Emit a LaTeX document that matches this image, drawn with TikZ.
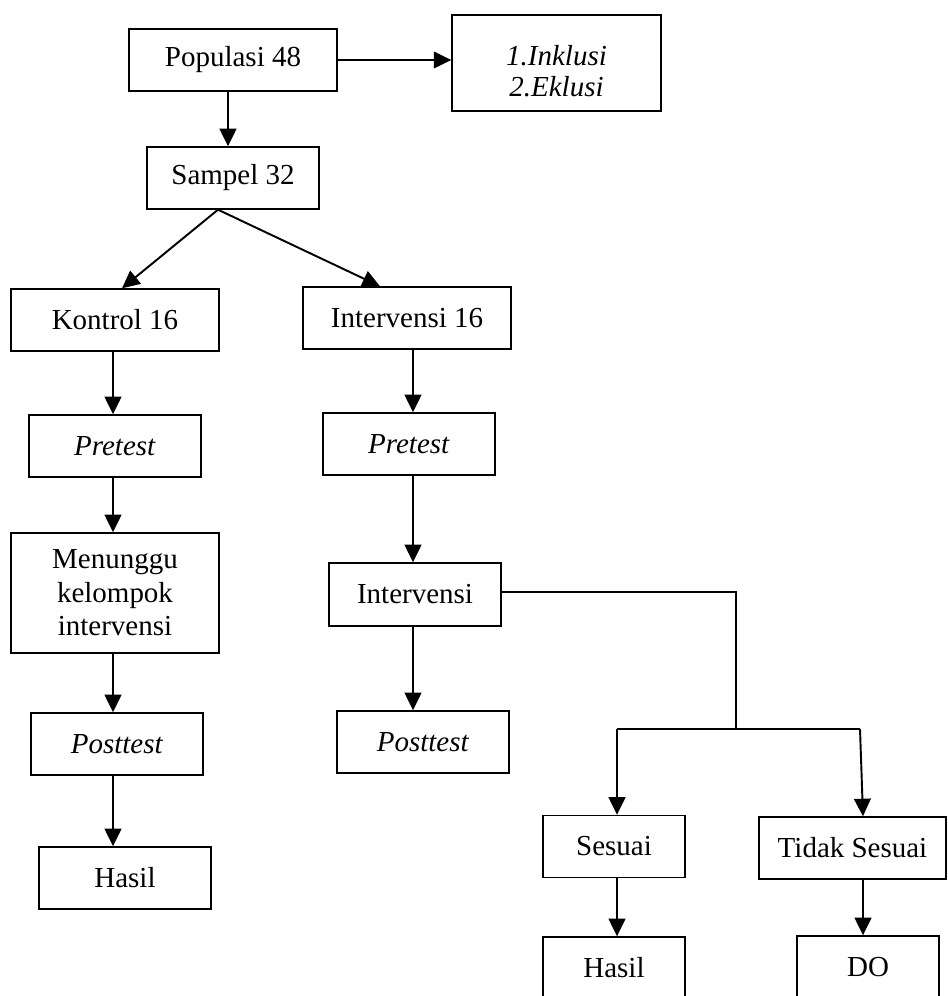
\documentclass[tikz,border=0pt]{standalone}
\usepackage{fontspec}
\setmainfont{Liberation Serif}
\usetikzlibrary{arrows.meta,calc}
\tikzset{>={Triangle[length=10pt,width=9.5pt]}}
\tikzset{
  kotak/.style={draw, line width=0.8pt, align=center, inner sep=0pt,
    minimum height=1.24cm, font=\fontsize{16.5}{19}\selectfont},
  panah/.style={->, line width=1.1pt}
}

\begin{document}
\begin{tikzpicture}[x=0.02cm, y=-0.02cm]
  \useasboundingbox (0,0) rectangle (947,996);
  % baris atas
  \node[kotak, minimum width=4.18cm, minimum height=1.92cm,
    label={[align=center, yshift=-4.5pt, font=\fontsize{16.5}{17.5}\selectfont\itshape]center:1.Inklusi\\2.Eklusi}]
    (kriteria) at (556.5,63) {};
  \node[kotak, minimum width=4.16cm] (populasi) at (233,60) {Populasi 48};
  \node[kotak, minimum width=3.44cm] (sampel) at (233,178) {Sampel 32};
  % kelompok kontrol
  \node[kotak, minimum width=4.16cm] (kontrol) at (115,320) {Kontrol 16};
  \node[kotak, minimum width=3.44cm] (pretestK) at (115,446) {\textit{Pretest}};
  \node[kotak, minimum width=4.16cm, minimum height=2.4cm] (menunggu) at (115,593) {Menunggu\\kelompok\\intervensi};
  \node[kotak, minimum width=3.44cm] (posttestK) at (117,744) {\textit{Posttest}};
  \node[kotak, minimum width=3.44cm] (hasilK) at (125,878) {Hasil};
  % kelompok intervensi
  \node[kotak, minimum width=4.16cm] (intv16) at (407,318) {Intervensi 16};
  \node[kotak, minimum width=3.44cm] (pretestI) at (409,444) {\textit{Pretest}};
  \node[kotak, minimum width=3.44cm, minimum height=1.26cm] (intv) at (415,594.5) {Intervensi};
  \node[kotak, minimum width=3.44cm] (posttestI) at (423,742) {\textit{Posttest}};
  \node[kotak, minimum width=2.84cm] (sesuai) at (614,846.5) {Sesuai};
  \node[kotak, minimum width=3.74cm] (tidak) at (852.5,848) {Tidak Sesuai};
  \node[kotak, minimum width=2.84cm] (hasilI) at (614,968) {Hasil};
  \node[kotak, minimum width=2.84cm] (do) at (868,967) {DO};

  \coordinate (pecah) at ($(sampel.south)+(-15,0)$);
  \coordinate (siku) at (736,729);
  \coordinate (kiri) at (617,729);
  \coordinate (kanan) at (860,729);

  \draw[panah] (populasi.east) -- (kriteria.west |- populasi.east);
  \draw[panah] ($(populasi.south)+(-5,0)$) -- ($(sampel.north)+(-5,0)$);
  \draw[panah] (pecah) -- ($(kontrol.north)+(7,0)$);
  \draw[panah] (pecah) -- ($(intv16.north)+(-27,0)$);
  \foreach \a/\b in {kontrol/pretestK, pretestK/menunggu, menunggu/posttestK, posttestK/hasilK}
    \draw[panah] ($(\a.south -| kontrol)+(-2,0)$) -- ($(\b.north -| kontrol)+(-2,0)$);
  \foreach \a/\b in {intv16/pretestI, pretestI/intv, intv/posttestI}
    \draw[panah] ($(\a.south -| pretestI)+(4,0)$) -- ($(\b.north -| pretestI)+(4,0)$);
  \draw[line width=1.1pt] ($(intv.east)+(0,-2.5)$) -| (siku);
  \draw[line width=1.1pt] (kiri) -- (kanan);
  \draw[panah] (kiri) -- (kiri |- sesuai.north);
  \draw[panah] (kanan) -- ($(tidak.north -| kanan)+(3,0)$);
  \draw[panah] (sesuai.south -| kiri) -- (hasilI.north -| kiri);
  \draw[panah] ($(tidak.south -| kanan)+(3,0)$) -- ($(do.north -| kanan)+(3,0)$);
\end{tikzpicture}
\end{document}
